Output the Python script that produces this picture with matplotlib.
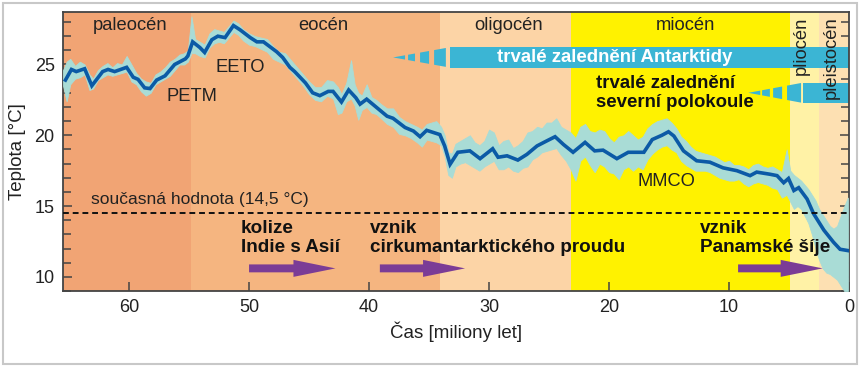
import matplotlib.pyplot as plt
from matplotlib.patches import Polygon, Rectangle

plt.rcParams['font.family'] = ['Liberation Sans', 'DejaVu Sans']

# epochs (Ma)
epoch_names = ["paleocén", "eocén", "oligocén", "miocén", "pliocén", "pleistocén"]
epoch_start = [66.0, 54.8, 34.1, 23.2, 4.9, 2.5]
epoch_end = [54.8, 34.1, 23.2, 4.9, 2.5, 0.0]
epoch_colors = ["#f1a474", "#f5b580", "#fcd4a6", "#fff200", "#fff2a6", "#fde0b2"]

# smoothed temperature curve
smooth_t = [65.3, 64.8, 64.4, 63.7, 63.1, 62.2, 61.75, 61.2, 60.2, 59.65, 59.25, 58.7,
            58.25, 57.7, 57.0, 56.2, 55.3, 55.1, 54.7, 54.1, 53.7, 53.1, 52.6, 52.0,
            51.3, 50.75, 49.9, 49.35, 48.8, 47.7, 47.2, 46.6, 46.2, 45.3, 44.7, 44.1,
            43.4, 43.0, 42.3, 41.7, 41.1, 40.75, 40.2, 39.35, 38.5, 38.0, 37.0, 36.3,
            35.75, 35.2, 34.65, 34.1, 33.7, 33.25, 32.6, 31.6, 30.75, 29.7, 29.25, 28.5,
            27.6, 26.85, 26.0, 25.2, 24.5, 23.8, 23.0, 22.0, 21.2, 20.5, 19.35, 18.4,
            17.1, 16.4, 15.6, 15.05, 14.6, 13.8, 12.7, 11.6, 10.5, 9.35, 8.25, 7.7,
            6.6, 6.0, 5.45, 5.05, 4.6, 4.2, 3.5, 2.95, 2.1, 1.3, 0.75, 0.05]
smooth_temp = [23.9, 24.65, 24.5, 24.7, 23.5, 24.5, 24.65, 24.5, 24.8, 24.1, 23.95, 23.35,
               23.3, 23.9, 24.2, 25.0, 25.4, 25.6, 26.6, 26.2, 25.85, 26.75, 27.0, 26.9,
               27.75, 27.45, 26.9, 26.6, 26.6, 25.9, 25.5, 24.8, 24.5, 23.7, 23.0, 22.8,
               23.1, 23.1, 22.35, 23.2, 22.65, 22.2, 22.55, 21.95, 21.35, 21.2, 20.55, 20.3,
               19.9, 20.35, 20.2, 20.05, 19.25, 17.95, 18.8, 18.9, 18.35, 19.05, 18.45, 18.55,
               18.25, 18.65, 19.25, 19.6, 19.9, 19.35, 18.8, 19.5, 18.9, 18.95, 18.35, 18.8,
               18.8, 19.7, 20.0, 20.25, 19.95, 18.9, 18.2, 18.1, 17.7, 17.5, 17.15, 17.4,
               17.25, 17.15, 16.65, 16.95, 16.1, 16.3, 15.5, 14.45, 13.3, 12.45, 11.95, 11.85]

# raw data spread (upper / lower envelope)
band_t = [65.5, 65.2, 64.9, 64.5, 64.1, 63.7, 63.3, 63.0, 62.6, 62.2, 61.8, 61.4, 61.0, 60.6,
          60.2, 59.8, 59.4, 59.0, 58.6, 58.2, 57.8, 57.4, 57.0, 56.6, 56.2, 55.8, 55.4, 55.1,
          54.8, 54.5, 54.1, 53.7, 53.3, 52.9, 52.5, 52.1, 51.7, 51.3, 50.9, 50.5, 50.0, 49.5,
          49.0, 48.5, 48.0, 47.5, 47.0, 46.5, 46.0, 45.5, 45.0, 44.5, 44.0, 43.5, 43.0, 42.6,
          42.3, 41.9, 41.5, 41.2, 40.9, 40.6, 40.2, 39.8, 39.4, 39.0, 38.5, 38.0, 37.5, 37.0,
          36.5, 36.0, 35.6, 35.2, 34.8, 34.4, 34.0, 33.7, 33.4, 33.1, 32.8, 32.4, 32.0, 31.6,
          31.2, 30.8, 30.4, 30.0, 29.6, 29.2, 28.8, 28.4, 28.0, 27.6, 27.2, 26.8, 26.4, 26.0,
          25.6, 25.2, 24.8, 24.4, 24.0, 23.6, 23.2, 22.8, 22.4, 22.0, 21.6, 21.2, 20.8, 20.4,
          20.0, 19.6, 19.2, 18.8, 18.4, 18.0, 17.6, 17.2, 16.8, 16.4, 16.0, 15.6, 15.2, 14.8,
          14.4, 14.0, 13.6, 13.2, 12.8, 12.4, 12.0, 11.6, 11.2, 10.8, 10.4, 10.0, 9.6, 9.2,
          8.8, 8.4, 8.0, 7.6, 7.2, 6.8, 6.4, 6.0, 5.6, 5.2, 4.9, 4.6, 4.3, 4.0, 3.7, 3.4,
          3.1, 2.8, 2.5, 2.2, 1.9, 1.6, 1.3, 1.0, 0.7, 0.4, 0.1]
band_hi = [24.6, 25.2, 25.4, 24.9, 25.2, 25.0, 24.3, 24.0, 24.6, 24.9, 25.1, 24.8, 25.1, 25.0,
           25.6, 25.0, 24.4, 24.0, 23.8, 23.7, 24.3, 24.5, 24.8, 25.2, 25.4, 25.7, 25.8, 26.0,
           28.4, 26.8, 26.6, 26.4, 27.2, 27.5, 27.4, 27.3, 27.7, 28.1, 27.9, 27.5, 27.2, 27.0,
           26.9, 26.8, 26.3, 25.9, 25.8, 25.3, 24.8, 24.3, 23.8, 23.4, 23.4, 23.9, 23.8, 23.4,
           22.9, 23.7, 25.3, 23.6, 23.0, 22.8, 23.6, 22.7, 22.5, 22.2, 21.9, 21.9, 21.3, 21.0,
           20.8, 20.6, 20.4, 20.8, 20.9, 21.0, 20.6, 20.0, 18.8, 18.7, 19.4, 19.6, 19.8, 20.0,
           19.5, 19.3, 19.6, 20.4, 20.2, 19.3, 19.6, 19.7, 19.1, 19.3, 19.6, 20.2, 20.3, 20.6,
           20.5, 20.9, 20.9, 21.2, 20.6, 20.4, 20.2, 19.8, 20.6, 20.8, 20.3, 20.2, 20.4, 20.3,
           19.8, 19.5, 19.9, 20.0, 20.3, 20.0, 19.7, 19.9, 20.5, 20.8, 21.0, 21.1, 21.2, 20.9,
           20.5, 19.9, 19.6, 19.2, 18.9, 18.8, 18.7, 18.6, 18.5, 18.3, 18.1, 18.2, 17.9, 17.9,
           17.8, 17.6, 17.9, 18.0, 17.8, 17.7, 17.8, 17.6, 17.4, 19.0, 17.5, 17.2, 17.0, 16.8,
           16.5, 16.2, 15.8, 15.4, 14.8, 14.4, 14.0, 13.6, 13.4, 13.6, 14.3, 15.0, 15.6]
band_lo = [23.5, 22.4, 23.6, 24.0, 24.1, 24.3, 23.2, 23.3, 23.9, 24.1, 24.3, 24.2, 24.3, 24.4,
           24.5, 23.8, 23.6, 23.1, 22.8, 23.0, 23.6, 23.8, 24.0, 24.2, 24.6, 25.0, 25.0, 25.2,
           25.8, 25.8, 25.6, 25.5, 26.2, 26.5, 26.6, 26.5, 26.9, 27.3, 27.1, 26.7, 26.4, 26.3,
           26.1, 25.9, 25.4, 25.2, 25.0, 24.5, 24.0, 23.5, 22.9, 22.5, 22.4, 22.8, 22.6, 21.5,
           21.6, 22.4, 22.6, 22.1, 21.1, 21.8, 22.0, 21.6, 21.5, 21.2, 20.8, 20.6, 20.1, 20.0,
           19.8, 19.5, 19.2, 19.7, 19.6, 19.5, 19.3, 18.5, 17.2, 17.0, 17.8, 18.0, 18.1, 17.9,
           17.7, 17.5, 17.8, 18.0, 18.2, 17.6, 17.6, 17.8, 17.5, 17.4, 17.7, 17.8, 18.3, 18.5,
           18.8, 18.9, 19.0, 19.1, 18.6, 18.2, 17.6, 16.8, 18.2, 18.5, 17.9, 17.4, 18.0, 17.8,
           17.4, 17.3, 16.9, 17.6, 17.8, 17.5, 17.8, 17.6, 18.3, 18.7, 19.0, 19.2, 19.3, 19.0,
           18.8, 18.2, 17.9, 17.7, 17.5, 17.5, 17.5, 17.4, 17.2, 17.0, 16.9, 16.8, 16.8, 16.9,
           16.6, 16.4, 16.6, 16.7, 16.6, 16.5, 16.3, 16.2, 15.6, 15.8, 15.3, 14.8, 15.0, 14.8,
           14.3, 13.8, 13.0, 12.0, 11.2, 10.6, 10.3, 10.2, 10.0, 9.8, 9.4, 9.0, 9.0]

present_temp = 14.5

fig = plt.figure(figsize=(8.6, 3.67), dpi=100)
ax = fig.add_axes([0.0733, 0.207, 0.914, 0.760])
fig.patches.append(Rectangle((0.003, 0.008), 0.994, 0.985, transform=fig.transFigure,
                             fill=False, edgecolor="#c8c8c8", linewidth=1.5))

for s, e, c in zip(epoch_start, epoch_end, epoch_colors):
    ax.axvspan(s, e, color=c, lw=0, zorder=0)

ax.set_xlim(65.5, 0)
ax.set_ylim(9.0, 28.7)

txt = "#222222"
fs = 13.2

# epoch names
ax.text(59.9, 27.75, epoch_names[0], ha="center", va="center", fontsize=fs, color=txt)
ax.text(43.8, 27.75, epoch_names[1], ha="center", va="center", fontsize=fs, color=txt)
ax.text(28.4, 27.75, epoch_names[2], ha="center", va="center", fontsize=fs, color=txt)
ax.text(13.6, 27.75, epoch_names[3], ha="center", va="center", fontsize=fs, color=txt)
ax.text(3.95, 26.3, epoch_names[4], ha="center", va="center", fontsize=fs, rotation=90, color=txt)
ax.text(1.5, 25.5, epoch_names[5], ha="center", va="center", fontsize=fs, rotation=90, color=txt)

cyan = "#3bb5d4"


def ice_bar(x_apex, x_full, y_mid, half, segments):
    # tapered onset wedge split into pieces, then the full-width bar to present
    for a, b in segments:
        ha_ = half * (x_apex - a) / (x_apex - x_full)
        hb_ = half * (x_apex - b) / (x_apex - x_full)
        ax.add_patch(Polygon([(a, y_mid - ha_), (b, y_mid - hb_), (b, y_mid + hb_), (a, y_mid + ha_)],
                             closed=True, color=cyan, lw=0, zorder=2))
    ax.add_patch(Rectangle((x_full, y_mid - half), -x_full, 2 * half, color=cyan, lw=0, zorder=2))


# Antarctica
ice_bar(38.0, 33.25, 25.5, 0.72, [(38.0, 37.0), (36.75, 36.17), (35.75, 35.0), (34.58, 33.6)])
ax.text(19.5, 25.5, "trvalé zalednění Antarktidy", ha="center", va="center", fontsize=13.4,
        fontweight="bold", color="white", zorder=3)
# northern hemisphere
ice_bar(8.4, 3.83, 23.0, 0.72, [(8.4, 7.4), (7.25, 6.6), (6.33, 5.58), (5.17, 4.0)])
ax.text(21.1, 23.0, "trvalé zalednění\nseverní polokoule", ha="left", va="center", fontsize=13.4,
        fontweight="bold", color="#111111", linespacing=1.15, zorder=3)

# temperature
ax.fill_between(band_t, band_lo, band_hi, color="#a9dcd6", lw=0.6, edgecolor="#a9dcd6", zorder=3)
ax.plot(smooth_t, smooth_temp, color="#0b5aa6", lw=2.6, zorder=4, solid_joinstyle="miter")

ax.axhline(present_temp, color="#111111", lw=1.4, ls=(0, (3, 2)), zorder=5)
ax.text(63.2, 15.5, "současná hodnota (14,5 °C)", ha="left", va="center", fontsize=12.5, color=txt)

ax.text(54.75, 22.75, "PETM", ha="center", va="center", fontsize=fs, color=txt)
ax.text(50.7, 24.8, "EETO", ha="center", va="center", fontsize=fs, color=txt)
ax.text(15.2, 16.75, "MMCO", ha="center", va="center", fontsize=fs, color=txt)

purple = "#7b3c96"
events = [(50.7, "kolize\nIndie s Asií", 50.0, 42.8),
          (39.9, "vznik\ncirkumantarktického proudu", 39.1, 32.0),
          (12.4, "vznik\nPanamské šíje", 9.25, 2.2)]
for tx, label, a0, a1 in events:
    ax.text(tx, 12.75, label, ha="left", va="center", fontsize=13.6, fontweight="bold",
            color="#111111", linespacing=1.1, zorder=5)
    ax.arrow(a0, 10.6, a1 - a0, 0, width=0.56, head_width=1.2, head_length=3.5,
             length_includes_head=True, color=purple, lw=0, zorder=5)

ax.set_xticks([60, 50, 40, 30, 20, 10, 0])
ax.set_yticks([10, 15, 20, 25])
ax.set_yticks(range(9, 29), minor=True)
ax.tick_params(axis="both", direction="in", length=6.5, width=1.1, color="#444444",
               labelsize=13, labelcolor=txt, pad=6)
ax.tick_params(axis="y", which="both", right=True)
ax.tick_params(axis="y", which="minor", direction="in", length=6, width=1.1, color="#444444")
for sp in ax.spines.values():
    sp.set_color("#444444")
    sp.set_linewidth(1.3)

ax.set_xlabel("Čas [miliony let]", fontsize=13.5, color=txt, labelpad=4)
ax.set_ylabel("Teplota [°C]", fontsize=13.5, color=txt, labelpad=6)

fig.savefig("out.png", dpi=100)
